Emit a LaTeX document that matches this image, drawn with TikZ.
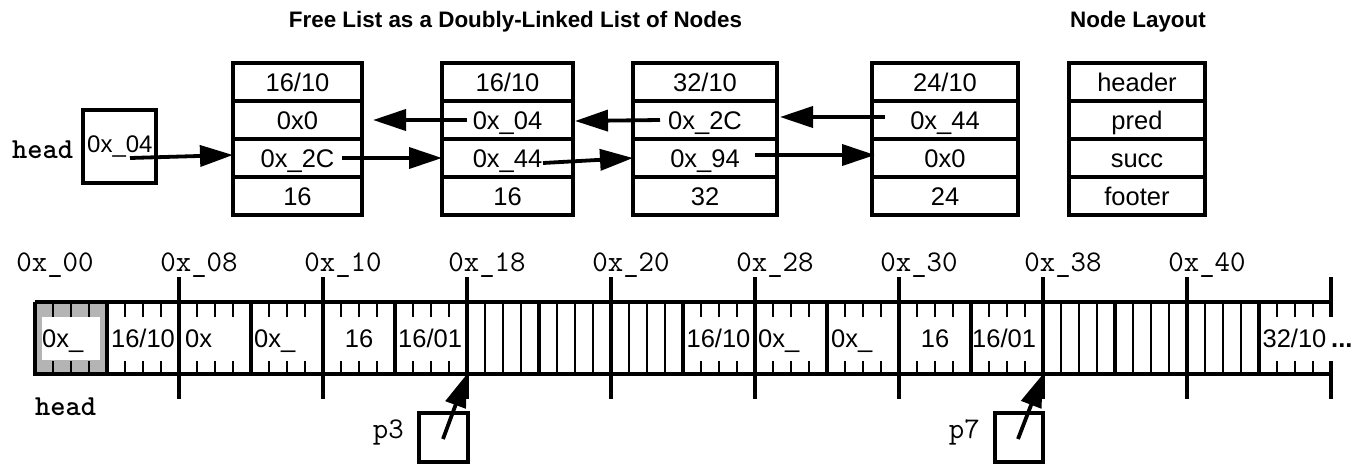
\documentclass[tikz,border=0pt]{standalone}
\usepackage{fontspec}
\setmainfont{Liberation Sans}
\usetikzlibrary{arrows.meta}
\definecolor{cellgray}{RGB}{180,180,180}
\newcommand\memnode[7]{%
 \node[cell, minimum width=#3pt, anchor=north west] (#1-1) at (#2,63) {#4};
 \node[cell, minimum width=#3pt, anchor=north west] (#1-2) at (#2,101) {#5};
 \node[cell, minimum width=#3pt, anchor=north west] (#1-3) at (#2,139) {#6};
 \node[cell, minimum width=#3pt, anchor=north west] (#1-4) at (#2,177) {#7};
}
\begin{document}
\begin{tikzpicture}[x=1pt,y=-1pt,
  lbl/.style={font=\fontsize{25.5}{29}\selectfont, inner sep=0pt, anchor=base},
  addr/.style={font=\ttfamily\fontsize{30}{34}\selectfont, inner sep=0pt, anchor=base},
  code/.style={font=\ttfamily\bfseries\fontsize{29}{34}\selectfont, inner sep=0pt, anchor=base},
  ttl/.style={font=\bfseries\fontsize{22.4}{26}\selectfont, inner sep=0pt, anchor=base},
  ptr/.style={line width=3.8pt, -{Triangle[length=33pt,width=21pt]}},
  cell/.style={draw, line width=3.6pt, minimum height=38pt, inner sep=0pt, outer sep=0pt,
    text height=18pt, text depth=0pt, font=\fontsize{25.5}{29}\selectfont},
  sbox/.style={draw, line width=3.5pt, inner sep=0pt, outer sep=0pt, anchor=north west},
  tick/.style={line width=2.6pt},
  wordline/.style={line width=3.2pt}
]
\useasboundingbox (0,0) rectangle (1368,464);

% titles
\node[ttl] (title) at (515.5,27) {Free List as a Doubly-Linked List of Nodes};
\node[ttl] (title2) at (1138,27) {Node Layout};

% head pointer
\node[code, anchor=base west] (headlbl) at (12,158) {head};
\node[sbox, minimum width=73pt, minimum height=73pt] (headbox) at (83,110) {};
\node[lbl, font=\fontsize{24}{28}\selectfont, anchor=base west] (headval) at (87,152) {0x\_04};

% nodes
\memnode{b1}{233}{129}{16/10}{0x0}{0x\_2C}{16}
\memnode{b2}{442}{131}{16/10}{0x\_04}{0x\_44}{16}
\memnode{b3}{633}{144}{32/10}{0x\_2C}{0x\_94}{32}
\memnode{b4}{872}{146}{24/10}{0x\_44}{0x0}{24}
\memnode{lay}{1069}{136}{header}{pred}{succ}{footer}

% arrow end points
\coordinate (s1) at (130,158);
\coordinate (s2) at (342,158);
\coordinate (s3) at (467,120);
\coordinate (e3) at (373,120);
\coordinate (s4) at (543,163);
\coordinate (s5) at (660,120);
\coordinate (e5) at (575,121);
\coordinate (s6) at (755,155);
\coordinate (e6) at (875,155);
\coordinate (s7) at (885,117);
\coordinate (e7) at (780,117);

\draw[ptr] (s1) -- ([yshift=3pt]b1-3.west);
\draw[ptr] (s2) -- (b2-3.west);
\draw[ptr] (s3) -- (e3);
\draw[ptr] (s4) -- (b3-3.west);
\draw[ptr] (s5) -- (e5);
\draw[ptr] (s6) -- (e6);
\draw[ptr] (s7) -- (e7);

% memory strip
\fill[cellgray] (35,302) rectangle (107,374);
\fill[white] (42,317) rectangle (100,360);
\foreach \w in {0,1,2,3,4,5,9,10,11,12,13,17} {
  \foreach \b in {1,2,3} {
    \draw[tick] (35+72*\w+18*\b,302) -- (35+72*\w+18*\b,317);
    \draw[tick] (35+72*\w+18*\b,361) -- (35+72*\w+18*\b,374);
  }
}
\foreach \w in {6,7,8,14,15,16} {
  \foreach \b in {1,2,3} {
    \draw[tick] (35+72*\w+18*\b,302) -- (35+72*\w+18*\b,374);
  }
}
\foreach \w in {1,...,17} \draw[wordline] (35+72*\w,302) -- (35+72*\w,376);
\draw[wordline] (35,302) -- (1331,302);
\draw[wordline] (33,374) -- (1331,374);
\draw[wordline] (35,302) -- (35,374);
\foreach \k in {1,...,8} \draw[wordline] (35+144*\k,277) -- (35+144*\k,399);
\draw[wordline] (1331,277) -- (1331,317);
\draw[wordline] (1331,361) -- (1331,399);

% address labels
\foreach \k/\t in {0/00,1/08,2/10,3/18,4/20,5/28,6/30,7/38,8/40}
  \node[addr] (a\k) at (55+144*\k,271) {0x\_\t};

% strip contents
\node[lbl, anchor=base west] (m0) at (42,347) {0x\_};
\node[lbl] (m1) at (143,347) {16/10};
\node[lbl, anchor=base west] (m2) at (185,347) {0x};
\node[lbl, anchor=base west] (m3) at (254,347) {0x\_};
\node[lbl] (m4) at (359,347) {16};
\node[lbl, anchor=base west] (m5) at (398,347) {16/01};
\node[lbl] (m9) at (718.5,347) {16/10};
\node[lbl, anchor=base west] (m10) at (758,347) {0x\_};
\node[lbl, anchor=base west] (m11) at (831,347) {0x\_};
\node[lbl] (m12) at (935,347) {16};
\node[lbl, anchor=base west] (m13) at (972,347) {16/01};
\node[lbl] (m17) at (1294.5,347) {32/10};
\node[lbl, font=\bfseries\fontsize{25.5}{29}\selectfont, anchor=base west] (dots) at (1331,347) {...};

\node[code, anchor=base west] (headlbl2) at (35,415) {head};

% p3 and p7
\node[sbox, minimum width=49pt, minimum height=49pt] (p3box) at (419,413) {};
\node[addr, anchor=base east] (p3lbl) at (404,438) {p3};
\node[sbox, minimum width=48pt, minimum height=49pt] (p7box) at (995,413) {};
\node[addr, anchor=base east] (p7lbl) at (980,438) {p7};
\coordinate (q3) at (443,439);
\coordinate (t3) at (467,374);
\coordinate (q7) at (1018,439);
\coordinate (t7) at (1043,374);
\draw[ptr] (q3) -- (t3);
\draw[ptr] (q7) -- (t7);
\end{tikzpicture}
\end{document}
